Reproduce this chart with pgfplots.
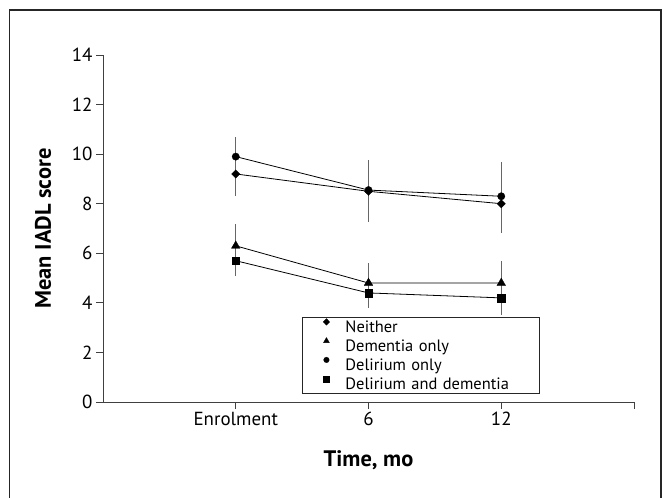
\documentclass[border=0pt]{standalone}
\usepackage{pgfplots}
\pgfplotsset{compat=1.18}
\usepackage{fontspec}
\setmainfont{PT Sans}
\begin{document}
\begin{tikzpicture}[x=1bp,y=1bp]
\useasboundingbox (0,0) rectangle (669,498);
\draw[line width=1.6bp, black!85] (9.5,-10) rectangle (661,488);
\begin{axis}[
 at={(103bp,96bp)}, anchor=south west, scale only axis,
 width=531bp, height=347bp,
 xmin=0, xmax=4, ymin=0, ymax=14,
 axis x line=bottom, axis y line=left,
 axis line style={-, black!75, line width=0.9bp},
 xtick={1,2,3,4}, xticklabels={Enrolment,6,12,{}},
 ytick={0,2,...,14},
 tick align=outside, major tick length=7bp,
 tick style={black!75, line width=0.9bp},
 ticklabel style={font=\fontsize{19}{22}\selectfont},
 /pgf/number format/assume math mode=true,
 xlabel={Time, mo}, ylabel={Mean IADL score},
 label style={font=\fontsize{22.5}{26}\selectfont\bfseries},
 xlabel style={at={(axis description cs:0.5,-0.167)}, anchor=center},
 ylabel style={at={(axis description cs:-0.113,0.5)}, anchor=center},
 every axis plot/.append style={black, line width=0.8bp},
 error bars/error bar style={line width=1.3bp, black!60},
 legend style={at={(axis cs:1.499,3.43)}, anchor=north west,
   draw=black!85, line width=0.9bp, inner sep=0pt, column sep=0pt,
   font=\fontsize{16.5}{19}\selectfont,
   nodes={text height=14bp, text depth=3.5bp, inner ysep=0.75bp, inner xsep=3bp, text width=191bp, align=left}},
 legend image code/.code={\path[draw=none,fill=none] (0bp,0bp) rectangle (40bp,1bp); \draw[#1] plot coordinates {(24bp,5bp)};},
]
% error bars (drawn first)
\addplot[forget plot, draw=none, mark=none, error bars/.cd, y dir=both, y explicit, error mark=none]
 coordinates {(1,9.2) +- (0,0.9) (2,8.5) +- (0,1.25) (3,8.0) +- (0,1.2)};
\addplot[forget plot, draw=none, mark=none, error bars/.cd, y dir=both, y explicit, error mark=none]
 coordinates {(1,6.3) +- (0,0.9) (2,4.8) +- (0,0.8) (3,4.8) +- (0,0.9)};
\addplot[forget plot, draw=none, mark=none, error bars/.cd, y dir=both, y explicit, error mark=none]
 coordinates {(1,9.9) +- (0,0.8) (2,8.55) +- (0,1.15) (3,8.3) +- (0,1.4)};
\addplot[forget plot, draw=none, mark=none, error bars/.cd, y dir=both, y explicit, error mark=none]
 coordinates {(1,5.7) +- (0,0.6) (2,4.4) +- (0,0.6) (3,4.2) +- (0,0.7)};
% lines with marks
\addplot[forget plot, mark=diamond*, mark size=4.2bp, mark options={solid, fill=black, line width=0.3bp, xscale=1.3}]
 coordinates {(1,9.2) (2,8.5) (3,8.0)};
\addplot[forget plot, mark=triangle*, mark size=5bp, mark options={solid, fill=black, line width=0.3bp}]
 coordinates {(1,6.3) (2,4.8) (3,4.8)};
\addplot[forget plot, mark=*, mark size=3.7bp, mark options={solid, fill=black, line width=0.3bp}]
 coordinates {(1,9.9) (2,8.55) (3,8.3)};
\addplot[forget plot, mark=square*, mark size=3.8bp, mark options={solid, fill=black, line width=0.3bp}]
 coordinates {(1,5.7) (2,4.4) (3,4.2)};
% legend
\addlegendimage{only marks, mark=diamond*, mark size=3.3bp, fill=black, line width=0.3bp, mark options={xscale=1.3}}
\addlegendentry{Neither}
\addlegendimage{only marks, mark=triangle*, mark size=3.4bp, fill=black, line width=0.3bp}
\addlegendentry{Dementia only}
\addlegendimage{only marks, mark=*, mark size=2.8bp, fill=black, line width=0.3bp}
\addlegendentry{Delirium only}
\addlegendimage{only marks, mark=square*, mark size=2.8bp, fill=black, line width=0.3bp}
\addlegendentry{Delirium and dementia}
\end{axis}
\end{tikzpicture}
\end{document}
